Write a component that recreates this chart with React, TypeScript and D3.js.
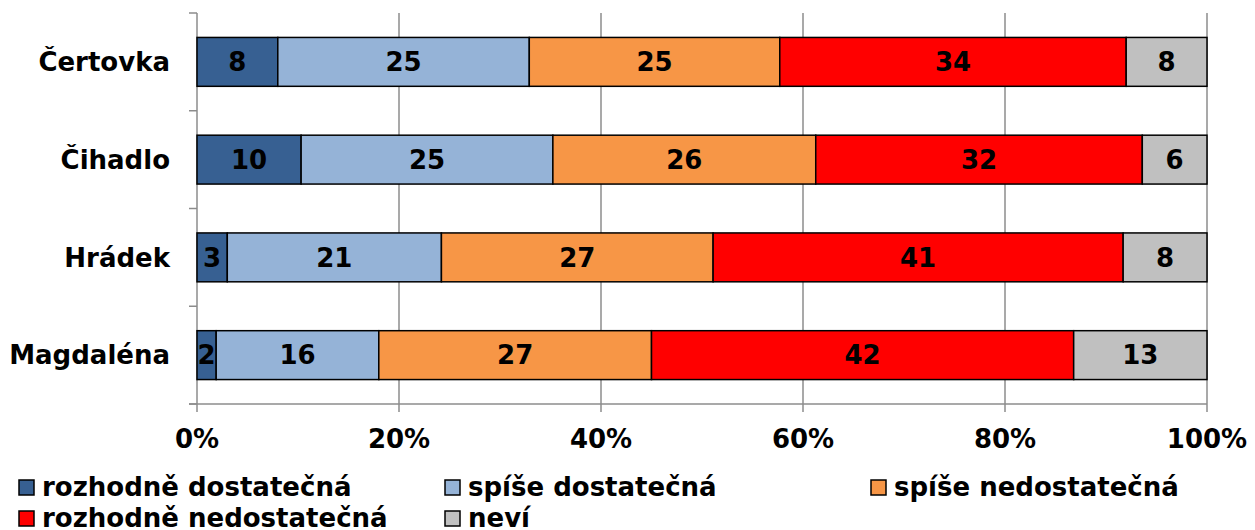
import React from "react";
import * as d3 from "d3";

const categories = ["Čertovka", "Čihadlo", "Hrádek", "Magdaléna"];
const seriesNames = ["rozhodně dostatečná", "spíše dostatečná", "spíše nedostatečná", "rozhodně nedostatečná", "neví"];
const rozhodneDost = [8.0, 10.3, 3.0, 1.9];
const spiseDost = [24.9, 24.9, 21.2, 16.1];
const spiseNedost = [24.8, 26.0, 26.9, 27.0];
const rozhodneNedost = [34.3, 32.3, 40.6, 41.8];
const nevi = [8.0, 6.4, 8.3, 13.2];
const colors = ["#376092", "#95B3D7", "#F79646", "#FF0000", "#C0C0C0"];
const xTicks = [0, 0.2, 0.4, 0.6, 0.8, 1];

const FONT = "'DejaVu Sans', Verdana, sans-serif";

export default function App() {
  const W = 1255, H = 530;
  const left = 197, right = 1207, top = 13, bottom = 404;
  const series = [rozhodneDost, spiseDost, spiseNedost, rozhodneNedost, nevi];
  const rows = categories.map((c, i) => {
    const o: any = { cat: c };
    seriesNames.forEach((s, j) => (o[s] = series[j][i]));
    return o;
  });
  const stack = d3.stack<any>().keys(seriesNames).offset(d3.stackOffsetExpand);
  const stacked = stack(rows);
  const x = d3.scaleLinear().domain([0, 1]).range([left, right]);
  const y = d3.scaleBand().domain(categories).range([top, bottom]).paddingInner(0.5).paddingOuter(0.25);
  const yTickPos = d3.range(categories.length + 1).map((i) => top + (i * (bottom - top)) / categories.length);

  const legendPos = [
    { x: 19, y: 496 },
    { x: 445, y: 496 },
    { x: 871, y: 496 },
    { x: 19, y: 527 },
    { x: 445, y: 527 },
  ];

  return (
    <svg width={W} height={H} style={{ display: "block", position: "absolute", left: 0, top: 0 }} fontFamily={FONT}>
      <rect width={W} height={H} fill="#fff" />
      {xTicks.map((t) => (
        <line key={"g" + t} x1={x(t)} x2={x(t)} y1={top} y2={bottom + 8} stroke="#8c8c8c" strokeWidth={1.5} />
      ))}
      <line x1={left - 8} x2={right} y1={bottom} y2={bottom} stroke="#8c8c8c" strokeWidth={1.5} />
      {yTickPos.map((p, i) => (
        <line key={"yt" + i} x1={left - 8} x2={left} y1={p} y2={p} stroke="#8c8c8c" strokeWidth={1.5} />
      ))}
      {stacked.map((s, j) =>
        s.map((d, i) => {
          const x0 = x(d[0]), x1 = x(d[1]);
          const yy = y(categories[i])!;
          return (
            <g key={j + "-" + i}>
              <rect x={x0} y={yy} width={x1 - x0} height={y.bandwidth()} fill={colors[j]} stroke="#000" strokeWidth={1.5} />
              <text x={(x0 + x1) / 2} y={yy + y.bandwidth() / 2} dy="0.36em" textAnchor="middle" fontSize={26} fontWeight="bold" fill="#000">
                {Math.round(series[j][i])}
              </text>
            </g>
          );
        })
      )}
      {categories.map((c) => (
        <text key={c} x={170} y={y(c)! + y.bandwidth() / 2} dy="0.36em" textAnchor="end" fontSize={26} fontWeight="bold">
          {c}
        </text>
      ))}
      {xTicks.map((t) => (
        <text key={"xl" + t} x={x(t)} y={448} textAnchor="middle" fontSize={26} fontWeight="bold">
          {d3.format(".0%")(t)}
        </text>
      ))}
      {seriesNames.map((s, j) => (
        <g key={s} transform={`translate(${legendPos[j].x},${legendPos[j].y})`}>
          <rect x={0} y={-16} width={15} height={15} fill={colors[j]} stroke="#000" strokeWidth={1.5} />
          <text x={23} y={0} fontSize={26} fontWeight="bold">{s}</text>
        </g>
      ))}
    </svg>
  );
}
